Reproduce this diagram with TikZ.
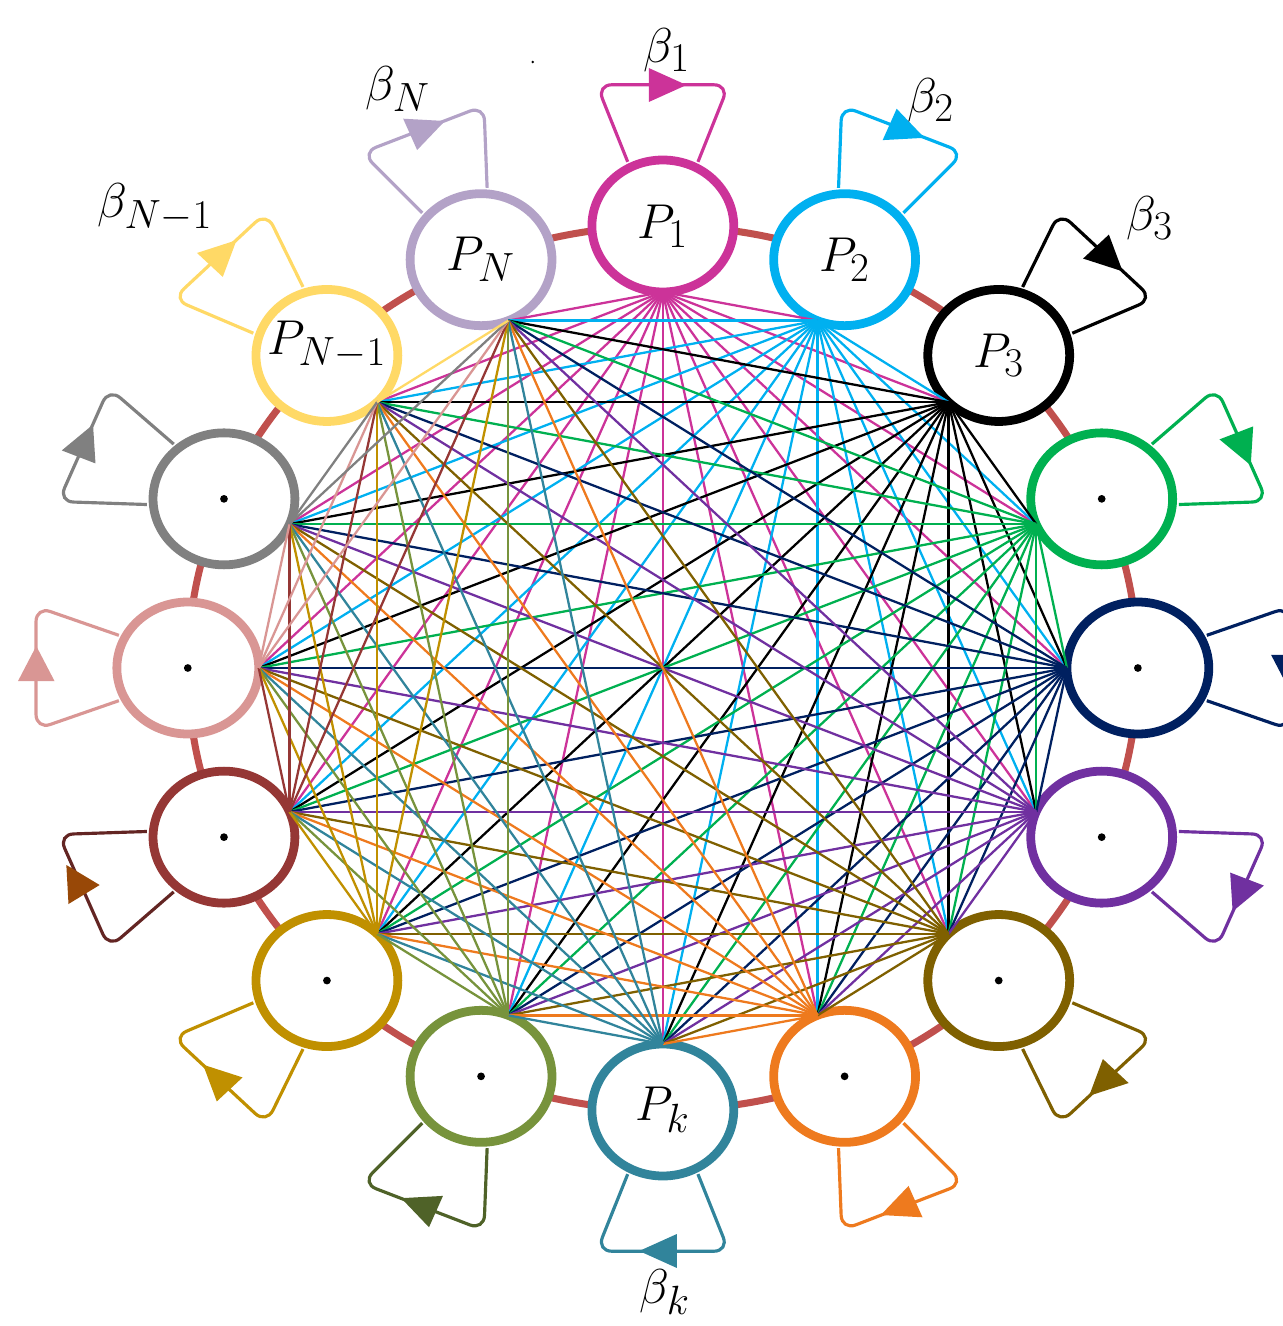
\documentclass[tikz,border=0pt]{standalone}
\usetikzlibrary{calc}
\definecolor{c1}{HTML}{CC3399}
\definecolor{c2}{HTML}{00B0F0}
\definecolor{c3}{HTML}{000000}
\definecolor{c4}{HTML}{00B050}
\definecolor{c5}{HTML}{002060}
\definecolor{c6}{HTML}{7030A0}
\definecolor{c7}{HTML}{7F6000}
\definecolor{c8}{HTML}{EE7A1E}
\definecolor{c9}{HTML}{31849B}
\definecolor{c10}{HTML}{77933C}
\definecolor{c11}{HTML}{C09000}
\definecolor{c12}{HTML}{953735}
\definecolor{c13}{HTML}{D99694}
\definecolor{c14}{HTML}{808080}
\definecolor{c15}{HTML}{FFD966}
\definecolor{c16}{HTML}{B3A2C7}
\definecolor{lgdark}{HTML}{4F6228}
\definecolor{drdark}{HTML}{632523}
\definecolor{drarrow}{HTML}{984807}
\definecolor{ringc}{HTML}{C0504D}
\begin{document}
\begin{tikzpicture}[x=0.0215cm,y=0.02cm,
  ring/.style={draw=ringc, line width=4pt},
  fanline/.style={line width=1.3pt},
  loopline/.style={line width=1.8pt, rounded corners=0.3cm},
  pnode/.style={line width=5pt, fill=white},
  lab/.style={font=\Huge, scale=1.12, inner sep=0pt}]
\useasboundingbox (-616.74,-658) rectangle (576.74,668);
% ring
\draw[ring] (0,0) circle (442);
% node centres and fan anchors
\foreach \i in {1,...,16} {
  \pgfmathsetmacro\ang{90-22.5*(\i-1)}
  \coordinate (n\i) at (\ang:442);
  \coordinate (a\i) at ($(n\i)+(\ang+180:66)$);
}
% self loops
\foreach \i/\s/\lc/\ac in {1/1/c1/c1, 2/1/c2/c2, 3/1/c3/c3, 4/1/c4/c4, 5/1/c5/c5,
    6/1/c6/c6, 7/1/c7/c7, 8/1/c8/c8, 9/1/c9/c9, 10/1/lgdark/lgdark, 11/1/c11/c11,
    12/0/drdark/drarrow, 13/1/c13/c13, 14/1/c14/c14, 15/1/c15/c15, 16/1/c16/c16} {
  \pgfmathsetmacro\ang{90-22.5*(\i-1)}
  \draw[loopline, \lc] ($(n\i)+(\ang+27:72)$) -- ($(n\i)+(\ang+23.5:154)$)
     -- ($(n\i)+(\ang-23.5:154)$) -- ($(n\i)+(\ang-27:72)$);
  \ifnum\s=0\relax\else
    \pgfmathsetmacro\ta{\ang-8.87*(\s)}
    \pgfmathsetmacro\tb{\ang+5.99*(\s)}
    \pgfmathsetmacro\tc{\ang+4.71*(\s)}
    \fill[\ac] ($(n\i)+(\ta:142.7)$) -- ($(n\i)+(\tb:124.7)$) -- ($(n\i)+(\tc:158.5)$) -- cycle;
  \fi
}
\fill[drarrow] (-555,-197) -- (-524,-217) -- (-553,-236) -- cycle;
% nodes
\foreach \i in {1,...,16} \draw[pnode, draw=c\i] (n\i) circle (66);
% complete graph
\foreach \i in {1,...,15} {
  \pgfmathtruncatemacro\js{\i+1}
  \foreach \j in {\js,...,16} \draw[fanline, c\i] (a\i) -- (a\j);
}
% centre dots
\foreach \i in {4,5,6,7,8,10,11,12,13,14} \fill (n\i) circle[radius=2.2pt];
\fill (-121,606) circle[radius=0.8pt];
% labels
\node[lab] (t1) at (n1) {$P_1$};
\node[lab] (t2) at (n2) {$P_2$};
\node[lab] (t3) at (n3) {$P_3$};
\node[lab] (t9) at (n9) {$P_k$};
\node[lab] (t15) at ($(n15)+(0,10)$) {$P_{N-1}$};
\node[lab] (t16) at (n16) {$P_N$};
\node[lab] (b1) at (3.7,618) {$\beta_1$};
\node[lab] (b2) at (249.3,568) {$\beta_2$};
\node[lab] (b3) at (453,450) {$\beta_3$};
\node[lab] (b16) at (-246.5,579) {$\beta_N$};
\node[lab] (b15) at (-472.6,460) {$\beta_{N-1}$};
\node[lab] (b9) at (1.9,-624) {$\beta_k$};
\end{tikzpicture}
\end{document}
